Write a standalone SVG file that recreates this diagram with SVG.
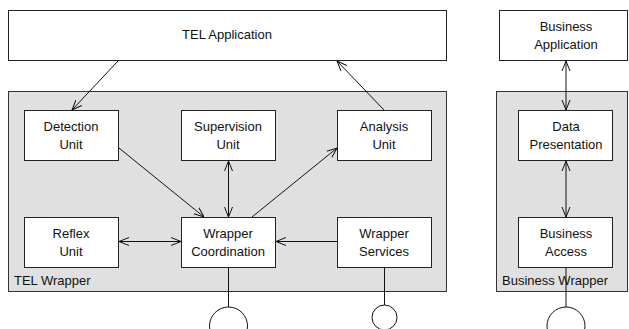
<svg xmlns="http://www.w3.org/2000/svg" width="629" height="329" viewBox="0 0 629 329">
<style>
.panel{fill:#e0e0e0;stroke:#333;stroke-width:1}
.box{fill:#fff;stroke:#222;stroke-width:1}
.t{font-family:"Liberation Sans",Arial,sans-serif;font-size:13px;fill:#111;text-anchor:middle}
.lbl{font-family:"Liberation Sans",Arial,sans-serif;font-size:13px;fill:#111}
.c{stroke:#111;stroke-width:1;fill:none}
.ci{fill:#fff;stroke:#111;stroke-width:1}
</style>
<defs>
<marker id="ah" viewBox="0 0 10 10" refX="10" refY="5" markerWidth="10" markerHeight="10" markerUnits="userSpaceOnUse" orient="auto-start-reverse">
<path d="M0,1 L10,5 L0,9" fill="none" stroke="#111" stroke-width="1"/>
</marker>
</defs>
<rect width="629" height="329" fill="#fff"/>
<g id="tel-wrapper">
<rect class="panel" x="8.5" y="91.5" width="438" height="200"/>
<text class="lbl" x="14" y="285">TEL Wrapper</text>
</g>
<g id="business-wrapper">
<rect class="panel" x="496.5" y="91.5" width="131" height="200"/>
<text class="lbl" x="502" y="285">Business Wrapper</text>
</g>
<g id="tel-application">
<rect class="box" x="8.5" y="10.5" width="438" height="50"/>
<text class="t" x="227" y="39">TEL Application</text>
</g>
<g id="business-application">
<rect class="box" x="499.5" y="10.5" width="128" height="50"/>
<text class="t" x="566" y="31">Business</text>
<text class="t" x="566" y="49">Application</text>
</g>
<g id="detection-unit">
<rect class="box" x="24.5" y="110.5" width="94" height="50"/>
<text class="t" x="71" y="131">Detection</text>
<text class="t" x="71" y="149">Unit</text>
</g>
<g id="supervision-unit">
<rect class="box" x="181.5" y="110.5" width="94" height="50"/>
<text class="t" x="228" y="131">Supervision</text>
<text class="t" x="228" y="149">Unit</text>
</g>
<g id="analysis-unit">
<rect class="box" x="337.5" y="110.5" width="94" height="50"/>
<text class="t" x="384" y="131">Analysis</text>
<text class="t" x="384" y="149">Unit</text>
</g>
<g id="reflex-unit">
<rect class="box" x="24.5" y="217.5" width="94" height="50"/>
<text class="t" x="71" y="238">Reflex</text>
<text class="t" x="71" y="256">Unit</text>
</g>
<g id="wrapper-coordination">
<rect class="box" x="181.5" y="217.5" width="94" height="50"/>
<text class="t" x="228" y="238">Wrapper</text>
<text class="t" x="228" y="256">Coordination</text>
</g>
<g id="wrapper-services">
<rect class="box" x="337.5" y="217.5" width="94" height="50"/>
<text class="t" x="384" y="238">Wrapper</text>
<text class="t" x="384" y="256">Services</text>
</g>
<g id="data-presentation">
<rect class="box" x="518.5" y="110.5" width="94" height="50"/>
<text class="t" x="566" y="131">Data</text>
<text class="t" x="566" y="149">Presentation</text>
</g>
<g id="business-access">
<rect class="box" x="518.5" y="217.5" width="94" height="50"/>
<text class="t" x="566" y="238">Business</text>
<text class="t" x="566" y="256">Access</text>
</g>
<g id="connectors">
<line class="c" x1="118" y1="61" x2="72" y2="110" marker-end="url(#ah)"/>
<line class="c" x1="384" y1="110" x2="337" y2="61" marker-end="url(#ah)"/>
<line class="c" x1="119" y1="148" x2="204" y2="217" marker-end="url(#ah)"/>
<line class="c" x1="228.5" y1="161" x2="228.5" y2="217" marker-start="url(#ah)" marker-end="url(#ah)"/>
<line class="c" x1="252" y1="217" x2="337" y2="148" marker-end="url(#ah)"/>
<line class="c" x1="119" y1="241.5" x2="181" y2="241.5" marker-start="url(#ah)" marker-end="url(#ah)"/>
<line class="c" x1="337" y1="241.5" x2="276" y2="241.5" marker-end="url(#ah)"/>
<line class="c" x1="566" y1="61" x2="566" y2="110" marker-start="url(#ah)" marker-end="url(#ah)"/>
<line class="c" x1="566" y1="161" x2="566" y2="217" marker-start="url(#ah)" marker-end="url(#ah)"/>
<line class="c" x1="228.5" y1="268" x2="228.5" y2="307"/>
<line class="c" x1="384.5" y1="268" x2="384.5" y2="305"/>
<line class="c" x1="566" y1="268" x2="566" y2="307"/>
<circle class="ci" cx="228.5" cy="326" r="19"/>
<circle class="ci" cx="384.5" cy="317.5" r="12.5"/>
<circle class="ci" cx="566" cy="326" r="19"/>
</g>
</svg>
